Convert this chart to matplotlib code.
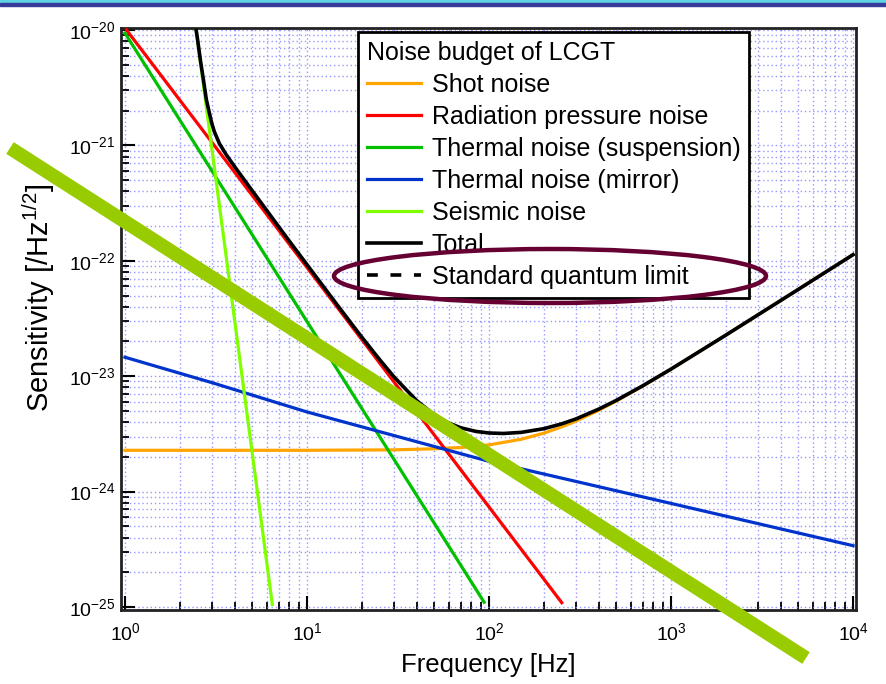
import matplotlib
matplotlib.use("Agg")
import matplotlib.pyplot as plt
from matplotlib.lines import Line2D
from matplotlib.patches import Ellipse, Rectangle
from matplotlib.ticker import LogLocator, NullFormatter

plt.rcParams['font.family'] = ['Liberation Sans', 'DejaVu Sans']
plt.rcParams['mathtext.fontset'] = 'custom'
plt.rcParams['mathtext.rm'] = 'Liberation Sans'
plt.rcParams['mathtext.it'] = 'Liberation Sans:italic'
plt.rcParams['axes.unicode_minus'] = False

# ---- data (frequency in Hz, sensitivity in 1/sqrt(Hz)) ----
shot_f = [1, 10, 30, 50, 70, 100, 150, 200, 250, 300, 400, 500, 700, 1000, 2000, 5000, 10000]
shot_s = [2.28e-24, 2.28e-24, 2.30e-24, 2.35e-24, 2.41e-24, 2.54e-24, 2.84e-24,
          3.21e-24, 3.63e-24, 4.08e-24, 5.06e-24, 6.09e-24, 8.22e-24, 1.15e-23,
          2.27e-23, 5.65e-23, 1.13e-22]

rad_f = [1.02, 251]
rad_s = [1.0e-20, 1.09e-25]

susp_f = [1.0, 94]
susp_s = [9.4e-21, 1.1e-25]

mirror_f = [1, 3, 10, 100, 1000, 10000]
mirror_s = [1.46e-23, 8.8e-24, 4.9e-24, 1.83e-24, 7.9e-25, 3.4e-25]

seis_f = [2.46, 6.45]
seis_s = [1.0e-20, 1.05e-25]

total_f = [2.46, 2.5, 2.6, 2.7, 2.8, 2.9, 3.0, 3.1, 3.3, 3.6, 4, 5, 6, 8, 10, 15, 20,
           25, 30, 40, 50, 60, 70, 85, 100, 120, 150, 200, 250, 300, 400, 500, 700,
           1000, 2000, 5000, 10000]
total_s = [1.0e-20, 8.47e-21, 5.39e-21, 3.67e-21, 2.49e-21, 1.95e-21, 1.55e-21,
           1.31e-21, 1.04e-21, 8.31e-22, 6.56e-22, 4.05e-22, 2.74e-22, 1.48e-22,
           9.26e-23, 3.95e-23, 2.18e-23, 1.40e-23, 9.9e-24, 6.15e-24, 4.63e-24,
           3.93e-24, 3.57e-24, 3.32e-24, 3.22e-24, 3.19e-24, 3.26e-24, 3.51e-24,
           3.86e-24, 4.26e-24, 5.18e-24, 6.17e-24, 8.27e-24, 1.153e-23, 2.27e-23,
           5.65e-23, 1.13e-22]

x_ticks = [1, 10, 100, 1000, 10000]
y_ticks = [1e-25, 1e-24, 1e-23, 1e-22, 1e-21, 1e-20]

legend_title = "Noise budget of LCGT"
labels = ["Shot noise", "Radiation pressure noise", "Thermal noise (suspension)",
          "Thermal noise (mirror)", "Seismic noise", "Total", "Standard quantum limit"]
colors = ["#FFA500", "#FF0000", "#00C000", "#0033CC", "#80FF00", "#000000", "#000000"]

W, H = 886, 684
fig = plt.figure(figsize=(W / 100, H / 100), dpi=100)
ax = fig.add_axes([121 / W, 1 - 610 / H, (856 - 121) / W, (610 - 28) / H])

ax.set_xscale('log')
ax.set_yscale('log')
ax.set_xlim(0.951, 1.038e4)
ax.set_ylim(0.942e-25, 1.041e-20)
ax.set_xticks(x_ticks)
ax.set_yticks(y_ticks)
ax.xaxis.set_minor_locator(LogLocator(base=10, subs=range(2, 10), numticks=20))
ax.yaxis.set_minor_locator(LogLocator(base=10, subs=range(2, 10), numticks=20))
ax.xaxis.set_minor_formatter(NullFormatter())
ax.yaxis.set_minor_formatter(NullFormatter())

lw = 2.3
ax.plot(shot_f, shot_s, color=colors[0], lw=lw, label=labels[0], zorder=3)
ax.plot(rad_f, rad_s, color=colors[1], lw=lw, label=labels[1], zorder=3)
ax.plot(susp_f, susp_s, color=colors[2], lw=lw, label=labels[2], zorder=3)
ax.plot(mirror_f, mirror_s, color=colors[3], lw=lw, label=labels[3], zorder=3)
ax.plot(seis_f, seis_s, color=colors[4], lw=lw, label=labels[4], zorder=3)
ax.plot(total_f, total_s, color=colors[5], lw=2.6, label=labels[5], zorder=4)
sql_proxy = Line2D([], [], color=colors[6], lw=2.6, ls=(0, (3.0, 3.5)), label=labels[6])

ax.grid(True, which='both', color='#8C8CFF', ls=(0, (1, 2)), lw=1.0, alpha=0.9)
ax.set_axisbelow(True)

ax.tick_params(which='both', direction='in', top=False, right=False, labelsize=14,
               color='black')
ax.tick_params(axis='x', pad=9)
ax.tick_params(axis='y', pad=4)
ax.tick_params(which='major', length=10, width=1.5)
ax.tick_params(which='minor', length=5.5, width=1.3)
for sp in ax.spines.values():
    sp.set_linewidth(2.0)
    sp.set_color('#222222')

ax.set_xlabel("Frequency [Hz]", fontsize=18.5)
ax.xaxis.set_label_coords(0.5, -(665 - 610) / 582, transform=ax.transAxes)
ax.xaxis.label.set_va('center')
ax.set_ylabel("Sensitivity [/Hz$^{1/2}$]", fontsize=21)
ax.yaxis.set_label_coords(-(121 - 57) / 735, (610 - 298) / 582, transform=ax.transAxes)

handles, _ = ax.get_legend_handles_labels()
handles.append(sql_proxy)
leg = ax.legend(handles=handles, labels=labels, title=legend_title,
                loc='upper left', bbox_to_anchor=(358 / W, 1 - 32 / H),
                bbox_transform=fig.transFigure, borderaxespad=0,
                fontsize=18, title_fontsize=18, alignment='left',
                frameon=True, fancybox=False, shadow=False, framealpha=1,
                edgecolor='black', handlelength=2.16, handletextpad=0.44,
                labelspacing=0.32, borderpad=0.35)
leg.get_frame().set_linewidth(2.0)
leg.set_zorder(6)

# slide annotations drawn over the figure
fig.patches.append(Rectangle((0, 1 - 3 / H), 1, 3 / H, transform=fig.transFigure,
                             color='#5ED3E3', zorder=10))
fig.patches.append(Rectangle((0, 1 - 6 / H), 1, 3 / H, transform=fig.transFigure,
                             color='#3A3A9A', zorder=10))
fig.lines.append(Line2D([10 / W, 806 / W], [1 - 148 / H, 1 - 658 / H],
                        transform=fig.transFigure, color='#99CC00', lw=10,
                        solid_capstyle='butt', zorder=20))
fig.patches.append(Ellipse((550 / W, 1 - 276 / H), 432 / W, 54 / H,
                           transform=fig.transFigure, fill=False,
                           edgecolor='#660033', lw=3.2, zorder=21))

fig.savefig("out.png", dpi=100)
